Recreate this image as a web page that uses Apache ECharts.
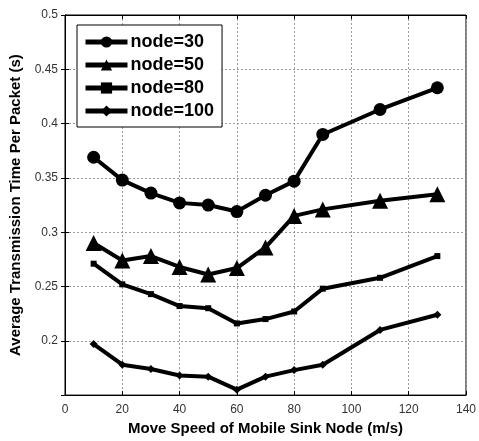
<!DOCTYPE html>
<html><head><meta charset="utf-8">
<script src="https://cdn.jsdelivr.net/npm/echarts@6/dist/echarts.min.js"></script>
<style>html,body{margin:0;padding:0;background:#fff}#c{width:479px;height:441px}</style>
</head><body><div id="c"></div>
<script>
const speeds = [10, 20, 30, 40, 50, 60, 70, 80, 90, 110, 130];
const node30 = [0.369, 0.348, 0.336, 0.327, 0.325, 0.319, 0.334, 0.347, 0.390, 0.413, 0.433];
const node50 = [0.290, 0.274, 0.278, 0.268, 0.261, 0.267, 0.286, 0.315, 0.321, 0.329, 0.335];
const node80 = [0.271, 0.252, 0.243, 0.232, 0.230, 0.216, 0.220, 0.227, 0.248, 0.258, 0.278];
const node100 = [0.197, 0.178, 0.174, 0.168, 0.167, 0.155, 0.167, 0.173, 0.178, 0.210, 0.224];
const seriesNames = ['node=30', 'node=50', 'node=80', 'node=100'];
const xTitle = 'Move Speed of Mobile Sink Node (m/s)';
const yTitle = 'Average Transmission Time Per Packet (s)';

const pairs = arr => speeds.map((s, i) => [s, arr[i]]);
const font = 'Arial, "Liberation Sans", sans-serif';
const chart = echarts.init(document.getElementById('c'), null, {renderer: 'canvas'});
const mk = (name, data, symbol, size) => ({
  name, type: 'line', data: pairs(data), symbol, symbolSize: size,
  lineStyle: {color: '#000', width: 4}, itemStyle: {color: '#000'},
  showSymbol: true, animation: false, z: 5
});
const gridLine = {show: true, lineStyle: {color: '#9a9a9a', type: [2, 2], width: 1}};
chart.setOption({
  animation: false,
  grid: {left: 65, right: 10, top: 15, bottom: 44, show: true, borderColor: '#000', borderWidth: 1},
  legend: {
    orient: 'vertical', left: 77, top: 25, itemWidth: 42, itemHeight: 14, itemGap: 5,
    padding: [8, 8, 7, 6], backgroundColor: '#fff', borderColor: '#000', borderWidth: 1,
    lineStyle: {width: 5, color: '#000'},
    textStyle: {fontFamily: font, fontWeight: 'bold', fontSize: 18, color: '#000', padding: [0,0,0,-2]},
    data: seriesNames
  },
  xAxis: [{
    type: 'value', min: 0, max: 140, interval: 20,
    axisLine: {show: true, lineStyle: {color: '#000'}},
    axisTick: {inside: true, length: 4, lineStyle: {color: '#000'}},
    axisLabel: {fontFamily: font, fontSize: 12, color: '#333', margin: 9},
    splitLine: gridLine,
    name: xTitle, nameLocation: 'middle', nameGap: 25,
    nameTextStyle: {fontFamily: font, fontWeight: 'bold', fontSize: 15, color: '#000'}
  }, {
    type: 'value', min: 0, max: 140, interval: 20, position: 'top',
    axisLine: {show: true, lineStyle: {color: '#000'}},
    axisTick: {inside: true, length: 4, lineStyle: {color: '#000'}},
    axisLabel: {show: false}, splitLine: {show: false}
  }],
  yAxis: [{
    type: 'value', min: 0.15, max: 0.5, interval: 0.05,
    axisLine: {show: true, lineStyle: {color: '#000'}},
    axisTick: {inside: true, length: 4, lineStyle: {color: '#000'}},
    axisLabel: {fontFamily: font, fontSize: 12, color: '#333', margin: 7,
      formatter: v => (Math.abs(v - 0.15) < 1e-9 ? '' : String(+v.toFixed(2)))},
    splitLine: gridLine,
    name: yTitle, nameLocation: 'middle', nameGap: 40,
    nameTextStyle: {fontFamily: font, fontWeight: 'bold', fontSize: 15, color: '#000'}
  }, {
    type: 'value', min: 0.15, max: 0.5, interval: 0.05, position: 'right',
    axisLine: {show: true, lineStyle: {color: '#000'}},
    axisTick: {inside: true, length: 4, lineStyle: {color: '#000'}},
    axisLabel: {show: false}, splitLine: {show: false}
  }],
  series: [
    mk(seriesNames[0], node30, 'circle', 13),
    mk(seriesNames[1], node50, 'triangle', 16),
    mk(seriesNames[2], node80, 'rect', 6),
    mk(seriesNames[3], node100, 'diamond', 8)
  ]
});
</script></body></html>
